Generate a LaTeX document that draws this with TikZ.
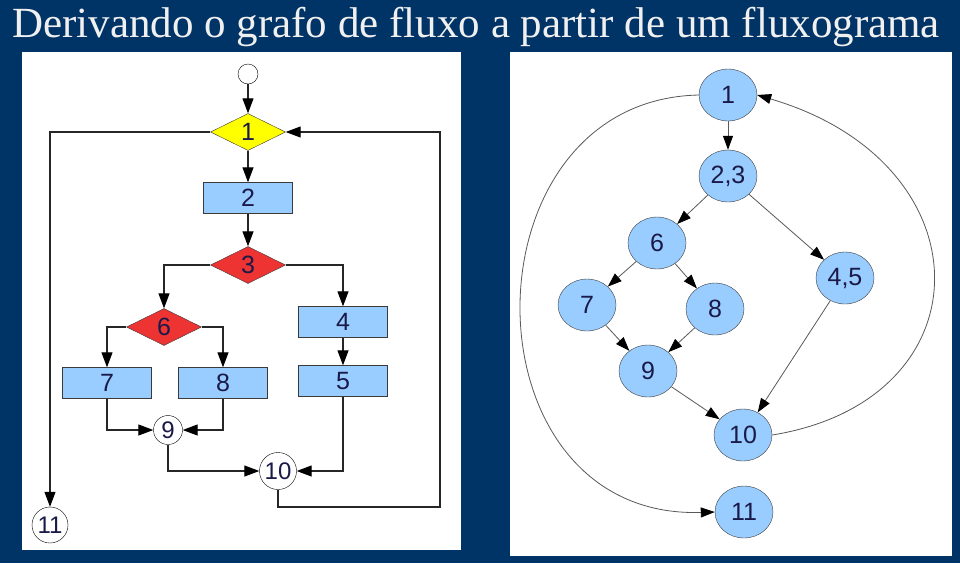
\documentclass[tikz,border=0pt]{standalone}
\usepackage{fontspec}
\setmainfont{Liberation Serif}
\newfontfamily\flowfont{Liberation Sans}
\usetikzlibrary{arrows.meta,shapes.geometric}
\definecolor{Slide}{HTML}{003366}
\definecolor{Title}{HTML}{F0F0F0}
\definecolor{Ink}{HTML}{1A1A48}
\definecolor{Frame}{HTML}{3A3A3A}
\definecolor{Step}{HTML}{99CCFF}
\definecolor{Decide}{HTML}{FFFF00}
\definecolor{Branch}{HTML}{EE3333}
\tikzset{flowbox/.style={draw=Frame,fill=Step,minimum width=89pt,minimum height=31pt,
    inner sep=0pt,font=\flowfont\fontsize{25}{25}\selectfont,text=Ink},
  flowdiam/.style={diamond,draw=Frame,minimum width=75pt,minimum height=37pt,
    inner sep=0pt,font=\flowfont\fontsize{25}{25}\selectfont,text=Ink},
  joint/.style={circle,draw=black,fill=white,inner sep=0pt,
    font=\flowfont\fontsize{24}{24}\selectfont,text=Ink},
  gnode/.style={ellipse,draw=Frame,fill=Step,minimum width=58pt,minimum height=52pt,
    inner sep=0pt,font=\flowfont\fontsize{25}{25}\selectfont,text=Ink},
  edge/.style={-{Triangle[length=15pt,width=11pt,color=black]},line width=1.2pt,draw=black!85},
  gedge/.style={-{Triangle[length=14pt,width=10pt,color=black]},line width=0.8pt,draw=black!65}}
\begin{document}
\begin{tikzpicture}[x=1pt,y=-1pt]
  \fill[Slide] (0,0) rectangle (960,563);
  \useasboundingbox (0,0) rectangle (960,563);
  \node[anchor=base west,inner sep=0pt,text=Title,font=\fontsize{43}{43}\selectfont] (title) at (12,37)
    {Derivando o grafo de fluxo a partir de um fluxograma};
  \fill[white] (22,52) rectangle (461,550);
  \fill[white] (510,52) rectangle (952,556);
  % fluxograma
  \node[joint,minimum size=20pt] (start) at (248,74) {};
  \node[flowdiam,fill=Decide] (d1) at (248,132) {1};
  \node[flowbox] (r2) at (248,198) {2};
  \node[flowdiam,fill=Branch] (d3) at (248,265) {3};
  \node[flowdiam,fill=Branch] (d6) at (164,327) {6};
  \node[flowbox] (r4) at (343,322) {4};
  \node[flowbox] (r5) at (343,381) {5};
  \node[flowbox] (r7) at (107,383) {7};
  \node[flowbox] (r8) at (223,383) {8};
  \node[joint,minimum size=29pt] (c9) at (168,430) {9};
  \node[joint,minimum size=37pt] (c10) at (278,471) {10};
  \node[joint,minimum size=36pt] (c11) at (50,525) {11};
  \coordinate (loop) at (440,507);
  \draw[edge] (start)--(d1); \draw[edge] (d1)--(r2); \draw[edge] (r2)--(d3);
  \draw[edge] (d3.west) -| (d6.north); \draw[edge] (d3.east) -| (r4.north);
  \draw[edge] (d6.west) -| (r7.north); \draw[edge] (d6.east) -| (r8.north);
  \draw[edge] (r4)--(r5);
  \draw[edge] (r7.south) |- (c9.west); \draw[edge] (r8.south) |- (c9.east);
  \draw[edge] (c9.south) |- (c10.west); \draw[edge] (r5.south) |- (c10.east);
  \draw[edge] (c10.south) |- (loop) |- (d1.east);
  \draw[edge] (d1.west) -| (c11.north);
  % grafo de fluxo
  \node[gnode] (g1) at (728,95) {1};
  \node[gnode] (g23) at (728,176) {2,3};
  \node[gnode] (g6) at (657,243) {6};
  \node[gnode] (g45) at (845,278) {4,5};
  \node[gnode] (g7) at (587,305) {7};
  \node[gnode] (g8) at (715,309) {8};
  \node[gnode] (g9) at (648,371) {9};
  \node[gnode] (g10) at (743,435) {10};
  \node[gnode] (g11) at (744,512) {11};
  \draw[gedge] (g1)--(g23); \draw[gedge] (g23)--(g6); \draw[gedge] (g23)--(g45);
  \draw[gedge] (g6)--(g7); \draw[gedge] (g6)--(g8);
  \draw[gedge] (g7)--(g9); \draw[gedge] (g8)--(g9);
  \draw[gedge] (g9)--(g10); \draw[gedge] (g45)--(g10);
  \draw[gedge] (g1.west) .. controls (460,100) and (460,520) .. (g11.west);
  \draw[gedge] (g10.east) .. controls (989,400) and (989,163) .. (g1.east);
\end{tikzpicture}
\end{document}
